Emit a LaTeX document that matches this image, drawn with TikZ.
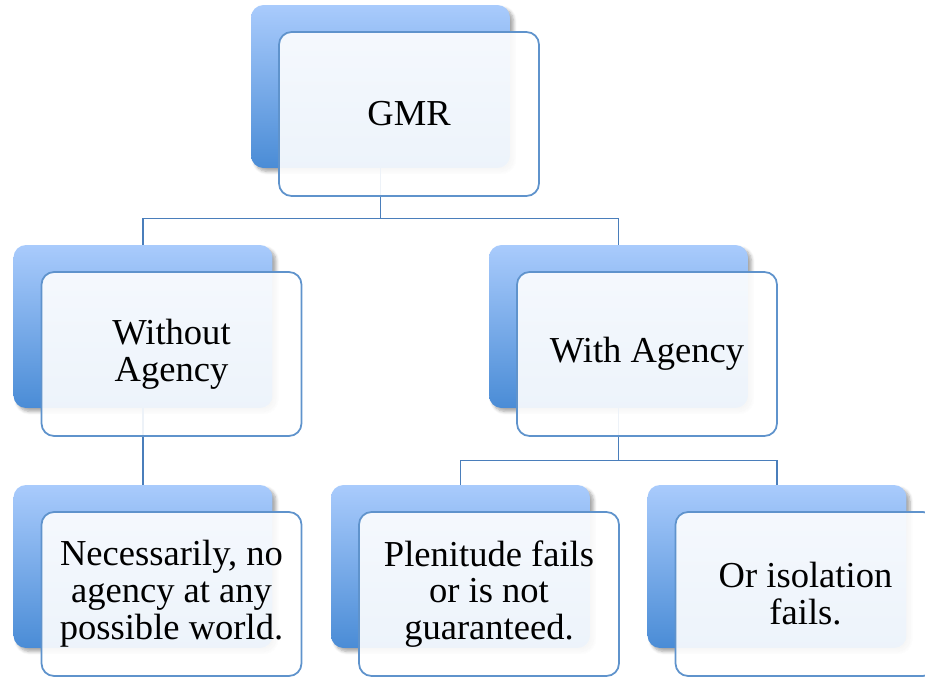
\documentclass[tikz,border=0pt]{standalone}
\usepackage{fontspec}
\setmainfont{Liberation Serif}
\usetikzlibrary{shadows.blur}
\definecolor{b1}{HTML}{A9CBFC}
\definecolor{b2}{HTML}{4A8CD6}
\definecolor{b3}{HTML}{5F93CC}
\definecolor{b4}{HTML}{4A7EBB}

\tikzset{
	backbox/.style={rectangle, rounded corners=0.25cm, minimum width=5.18cm, minimum height=3.26cm, top color=b1, bottom color=b2, draw=none, blur shadow={shadow xshift=2pt, shadow yshift=-2pt, shadow opacity=35, shadow blur steps=6}},
	frontbox/.style={rectangle, rounded corners=0.25cm, minimum width=5.2cm, minimum height=3.28cm, draw=b3, line width=1pt, fill=white, fill opacity=0.9, text opacity=1, align=center, font=\fontsize{20.8}{21}\selectfont},
	link/.style={draw=b4, line width=0.8pt}
}

\begin{document}
\begin{tikzpicture}[x=0.02cm,y=-0.02cm]
	\useasboundingbox (0,0) rectangle (925,676);
	% blue boxes at the back
	\node[backbox] (gmrb) at (380.5,86.5) {};
	\node[backbox] (woab) at (143,326.5) {};
	\node[backbox] (wab) at (618.5,326.5) {};
	\node[backbox] (necb) at (143,566.5) {};
	\node[backbox] (plenb) at (460.5,566.5) {};
	\node[backbox] (isob) at (777,566.5) {};

	% connectors, under the white boxes
	\draw[link] (gmrb.south) -- ++(0,50) -| (woab.north);
	\draw[link] (gmrb.south) -- ++(0,50) -| (wab.north);
	\draw[link] (woab.south) -- (necb.north);
	\draw[link] (wab.south) -- ++(0,52) -| (plenb.north);
	\draw[link] (wab.south) -- ++(0,52) -| (isob.north);

	% white boxes with the text
	\node[frontbox] (gmr) at ([shift={(28.5,27.5)}]gmrb.center) {GMR};
	\node[frontbox] (woa) at ([shift={(28.5,27.5)}]woab.center) {Without\\Agency};
	\node[frontbox] (wa) at ([shift={(28.5,27.5)}]wab.center) {With Agency};
	\node[frontbox] (nec) at ([shift={(28.5,27.5)}]necb.center) {Necessarily, no\\agency at any\\possible world.};
	\node[frontbox] (plen) at ([shift={(28.5,27.5)}]plenb.center) {Plenitude fails\\or is not\\guaranteed.};
	\node[frontbox] (iso) at ([shift={(28.5,27.5)}]isob.center) {Or isolation\\fails.};
\end{tikzpicture}
\end{document}
